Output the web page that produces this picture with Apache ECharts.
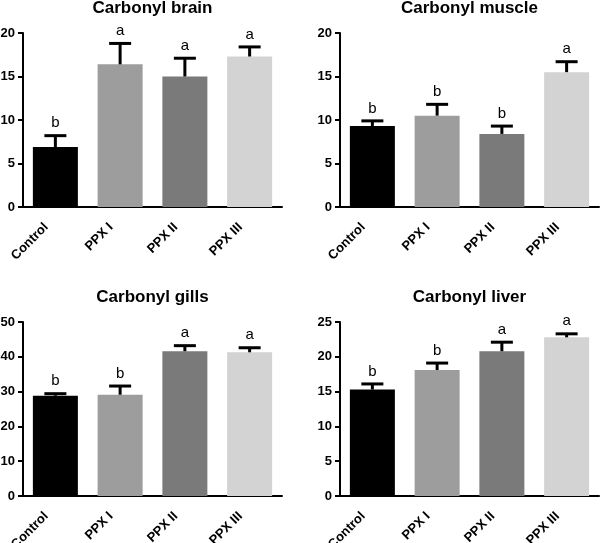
<!DOCTYPE html>
<html>
<head>
<meta charset="utf-8">
<script src="https://cdn.jsdelivr.net/npm/echarts@6/dist/echarts.min.js"></script>
<style>
  html, body { margin: 0; padding: 0; background: #fff; }
  #chart { width: 601px; height: 543px; }
</style>
</head>
<body>
<div id="chart"></div>
<script>
// 数据
const categories = ['Control', 'PPX I', 'PPX II', 'PPX III'];
const barColors = ['#000000', '#9d9d9d', '#7a7a7a', '#d3d3d3'];

const brainMean = [6.9, 16.4, 15.0, 17.3];
const brainSem = [1.3, 2.4, 2.1, 1.1];
const brainLetters = ['b', 'a', 'a', 'a'];

const muscleMean = [9.3, 10.5, 8.4, 15.5];
const muscleSem = [0.6, 1.3, 0.9, 1.2];
const muscleLetters = ['b', 'b', 'b', 'a'];

const gillsMean = [28.8, 29.1, 41.6, 41.3];
const gillsSem = [0.6, 2.5, 1.6, 1.3];
const gillsLetters = ['b', 'b', 'a', 'a'];

const liverMean = [15.3, 18.1, 20.8, 22.8];
const liverSem = [0.8, 1.0, 1.3, 0.5];
const liverLetters = ['b', 'b', 'a', 'a'];

const titles = ['Carbonyl brain', 'Carbonyl muscle', 'Carbonyl gills', 'Carbonyl liver'];
const yMax = [20, 20, 50, 25];
const yStep = [5, 5, 10, 5];

const FONT = '"Liberation Sans", Arial, sans-serif';

(function () {
  const myChart = echarts.init(document.getElementById('chart'));

  const panels = [
    { mean: brainMean, sem: brainSem, letters: brainLetters, left: 23, top: 33 },
    { mean: muscleMean, sem: muscleSem, letters: muscleLetters, left: 340, top: 33 },
    { mean: gillsMean, sem: gillsSem, letters: gillsLetters, left: 23, top: 322 },
    { mean: liverMean, sem: liverSem, letters: liverLetters, left: 340, top: 322 }
  ];
  const gw = 259, gh = 174;

  const grid = [], xAxis = [], yAxis = [], series = [], graphic = [];

  panels.forEach(function (p, i) {
    grid.push({
      left: p.left, top: p.top, width: gw, height: gh,
      containLabel: false,
      outerBoundsMode: 'none' // 不让标签挤压网格
    });

    xAxis.push({
      type: 'category',
      gridIndex: i,
      data: categories,
      axisLine: { lineStyle: { color: '#000', width: 2 } },
      axisTick: { alignWithLabel: true, length: 4, lineStyle: { color: '#000', width: 2 } },
      axisLabel: {
        rotate: 45,
        margin: 9,
        padding: [0, 13, 0, 0],
        color: '#000',
        fontWeight: 'bold',
        fontSize: 13,
        fontFamily: FONT
      }
    });

    yAxis.push({
      type: 'value',
      gridIndex: i,
      min: 0,
      max: yMax[i],
      interval: yStep[i],
      axisLine: { show: true, lineStyle: { color: '#000', width: 2 } },
      axisTick: { show: true, length: 5, lineStyle: { color: '#000', width: 2 } },
      splitLine: { show: false },
      axisLabel: {
        margin: 8,
        color: '#000',
        fontWeight: 'bold',
        fontSize: 13,
        fontFamily: FONT
      }
    });

    // 柱子
    series.push({
      type: 'bar',
      xAxisIndex: i,
      yAxisIndex: i,
      barWidth: 45,
      data: p.mean.map(function (v, k) {
        return { value: v, itemStyle: { color: barColors[k] } };
      }),
      silent: true
    });

    // 误差线 + 字母
    const letters = p.letters;
    series.push({
      type: 'custom',
      xAxisIndex: i,
      yAxisIndex: i,
      encode: { x: 0, y: [1, 2] },
      data: p.mean.map(function (m, k) { return [k, m, m + p.sem[k]]; }),
      z: 5,
      silent: true,
      renderItem: function (params, api) {
        const idx = api.value(0);
        const lo = api.coord([idx, api.value(1)]);
        const hi = api.coord([idx, api.value(2)]);
        const style = { stroke: '#000', lineWidth: 3 };
        return {
          type: 'group',
          children: [
            { type: 'line', shape: { x1: lo[0], y1: lo[1], x2: hi[0], y2: hi[1] }, style: style },
            { type: 'line', shape: { x1: hi[0] - 11, y1: hi[1], x2: hi[0] + 11, y2: hi[1] }, style: style },
            {
              type: 'text',
              style: {
                text: letters[params.dataIndex],
                x: hi[0],
                y: hi[1] - 5,
                textAlign: 'center',
                textVerticalAlign: 'bottom',
                fill: '#000',
                font: '15px ' + FONT
              }
            }
          ]
        };
      }
    });

    // 标题
    graphic.push({
      type: 'text',
      x: p.left + gw / 2,
      y: p.top - 25,
      style: {
        text: titles[i],
        fill: '#000',
        font: 'bold 17px ' + FONT,
        textAlign: 'center',
        textVerticalAlign: 'middle'
      }
    });
  });

  let option = {
    animation: false,
    grid: grid,
    xAxis: xAxis,
    yAxis: yAxis,
    series: series,
    graphic: graphic
  };
  myChart.setOption(option);

  window.addEventListener('resize', function () {
    myChart.resize();
  });
})();
</script>
</body>
</html>
